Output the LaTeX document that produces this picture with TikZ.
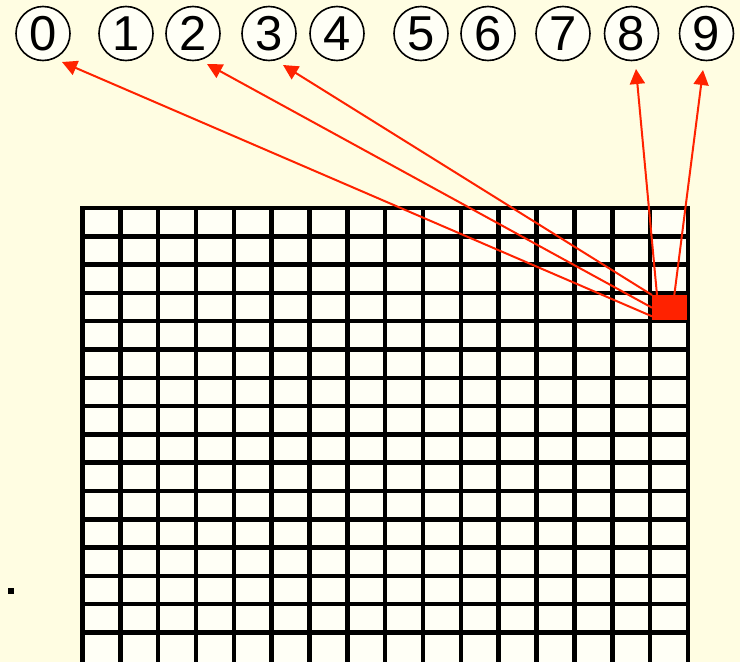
\documentclass[tikz,border=0pt]{standalone}
\usepackage{fontspec}
\setmainfont{Liberation Sans}
\usetikzlibrary{arrows.meta}
\definecolor{bg}{RGB}{255,253,226}
\definecolor{cellc}{RGB}{255,255,246}
\definecolor{redc}{RGB}{255,34,0}
\begin{document}
\begin{tikzpicture}[x=1pt,y=-1pt,
  digit/.style={circle,draw=black,line width=1.6pt,fill=cellc,minimum size=54pt,inner sep=0pt,font=\fontsize{49}{49}\selectfont},
  link/.style={draw=redc,line width=2pt,-{Triangle[length=15pt,width=15pt]}},
  gridline/.style={line width=4.5pt,line cap=rect}]
\fill[bg] (0,0) rectangle (740,662);
\useasboundingbox (0,0) rectangle (740,662);
% grid
\fill[cellc] (82.5,208) rectangle (688,672);
\foreach \i in {0,...,16} \draw[gridline] ({82.5+\i*37.84},208) -- ({82.5+\i*37.84},672);
\foreach \j in {0,...,15} \draw[gridline] (82.5,{208+\j*28.3}) -- (688,{208+\j*28.3});
% red cell
\node[fill=redc,minimum width=35pt,minimum height=25pt,inner sep=0pt,anchor=north west] (r) at (652,295) {};
% circled digits
\node[digit] (c0) at (43,33.5) {0};
\node[digit] (c1) at (126,33.5) {1};
\node[digit] (c2) at (193,33.5) {2};
\node[digit] (c3) at (269,33.5) {3};
\node[digit] (c4) at (337,33.5) {4};
\node[digit] (c5) at (421,33.5) {5};
\node[digit] (c6) at (488,33.5) {6};
\node[digit] (c7) at (563,33.5) {7};
\node[digit] (c8) at (631.5,33.5) {8};
\node[digit] (c9) at (706.5,33.5) {9};
% arrow tips
\coordinate (t0) at (62,62);
\coordinate (t2) at (207,64);
\coordinate (t3) at (283,65);
\coordinate (t8) at (636,69);
\coordinate (t9) at (703,70);
\draw[link] (r.206) -- (t0);
\draw[link] (r.west) -- (t2);
\draw[link] (r.north west) -- (t3);
\draw[link] (r.135) -- (t8);
\draw[link] (r.70) -- (t9);
% small dot
\fill[black] (8,588) rectangle (14,594);
\end{tikzpicture}
\end{document}
